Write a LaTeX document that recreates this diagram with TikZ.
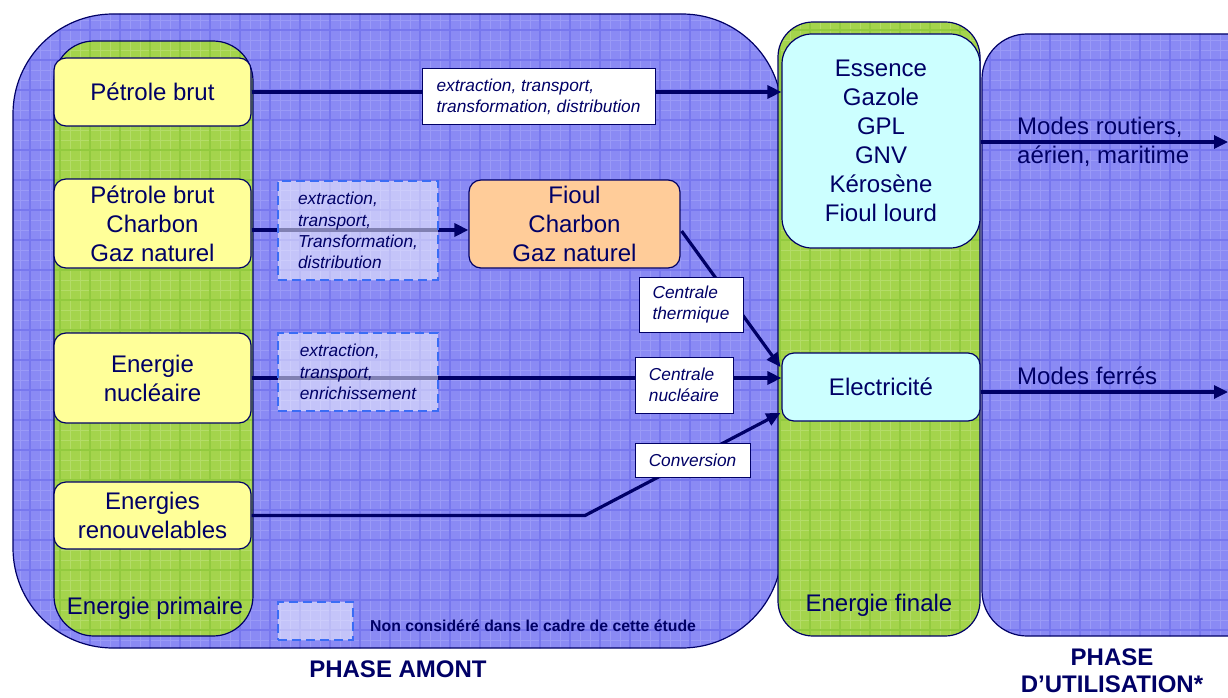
\documentclass[tikz,border=0pt]{standalone}
\usepackage{fontspec}
\setmainfont{Liberation Sans}
\usetikzlibrary{arrows.meta,calc}
\definecolor{navy}{HTML}{000066}
\definecolor{bluefill}{HTML}{8A8AF4}
\definecolor{bluegrid}{HTML}{7777EE}
\definecolor{bluegridlight}{HTML}{9A9AF7}
\definecolor{greenfill}{HTML}{A4D44C}
\definecolor{greengrid}{HTML}{92CA3E}
\definecolor{greengridlight}{HTML}{B4DC68}
\definecolor{yellowbox}{HTML}{FFFF99}
\definecolor{cyanbox}{HTML}{CCFFFF}
\definecolor{orangebox}{HTML}{FFCC99}
\definecolor{dashblue}{HTML}{3A6CF5}
\tikzset{
 mainfont/.style={font=\fontsize{24}{29}\selectfont},
 box/.style={draw=navy, line width=1.2pt, rounded corners=12pt, text=navy, align=center, inner sep=0pt, mainfont},
 ylw/.style={box, fill=yellowbox, minimum width=197pt},
 lbl/.style={draw=navy, line width=1pt, fill=white, text=navy, align=left, inner sep=0pt, font=\fontsize{17.3}{21.3}\selectfont\itshape},
 dbox/.style={draw=dashblue, line width=1.8pt, dash pattern=on 9pt off 5pt, fill=white, fill opacity=0.5, text opacity=1, text=navy, align=left, inner sep=0pt, font=\fontsize{17.3}{21.3}\selectfont\itshape},
 flow/.style={draw=navy, line width=3.2pt, -{Triangle[length=14pt,width=13pt]}},
 panel/.style={draw=navy, line width=1.2pt},
 plain/.style={text=navy, inner sep=0pt},
}
\newcommand{\gridin}[3]{%
 \begin{scope}\clip #1;
 \draw[#2, line width=0.7pt] (0,700) grid[step=10pt] (1300,0);
 \draw[#3, line width=1.1pt] (0,700) grid[step=30pt] (1300,0);
 \end{scope}}
\begin{document}
\begin{tikzpicture}[x=1pt,y=-1pt]
\useasboundingbox (0,0) rectangle (1228,698);
\clip (0,0) rectangle (1228,698);
% phase amont panel
\fill[bluefill, rounded corners=100pt] (13,14) rectangle (782,648);
\gridin{[rounded corners=100pt] (13,14) rectangle (782,648)}{bluegridlight}{bluegrid}
\draw[panel, rounded corners=100pt] (13,14) rectangle (782,648);
% energie primaire column
\fill[greenfill, rounded corners=40pt] (54,41) rectangle (253,636);
\gridin{[rounded corners=40pt] (54,41) rectangle (253,636)}{greengridlight}{greengrid}
\draw[panel, rounded corners=40pt] (54,41) rectangle (253,636);
% energie finale column
\fill[greenfill, rounded corners=35pt] (778,22) rectangle (980,636);
\gridin{[rounded corners=35pt] (778,22) rectangle (980,636)}{greengridlight}{greengrid}
\draw[panel, rounded corners=35pt] (778,22) rectangle (980,636);
% phase utilisation panel
\fill[bluefill, rounded corners=45pt] (982,34) rectangle (1300,636);
\gridin{[rounded corners=45pt] (982,34) rectangle (1300,636)}{bluegridlight}{bluegrid}
\draw[panel, rounded corners=45pt] (982,34) rectangle (1300,636);
% boxes
\node[ylw, minimum height=68pt] (pb1) at (152.5,92) {Pétrole brut};
\node[ylw, minimum height=89pt] (pb2) at (152.5,223.5) {Pétrole brut\\Charbon\\Gaz naturel};
\node[ylw, minimum height=90pt] (nuc) at (152.5,378) {Energie\\nucléaire};
\node[ylw, minimum height=67pt] (ren) at (152.5,515.5) {Energies\\renouvelables};
\node[box, fill=cyanbox, rounded corners=30pt, minimum width=198pt, minimum height=214pt] (ess) at (881,141) {Essence\\Gazole\\GPL\\GNV\\Kérosène\\Fioul lourd};
\node[box, fill=cyanbox, minimum width=198pt, minimum height=68pt] (elec) at (881,387) {Electricité};
\node[box, fill=orangebox, minimum width=211pt, minimum height=88pt] (fioul) at (574.5,224) {Fioul\\Charbon\\Gaz naturel};
\node[plain, mainfont] (eprim) at (155,608) {Energie primaire};
\node[plain, mainfont] (efin) at (879,605) {Energie finale};
% flows
\draw[flow] (pb1.east) -- (pb1.east -| ess.west);
\node[lbl, minimum width=233pt, minimum height=56pt] (lab1) at (538.5,97) {extraction, transport,\\transformation, distribution};
\coordinate (r2) at (0,230);
\draw[flow] (pb2.east |- r2) -- (fioul.west |- r2);
\node[dbox, minimum width=160pt, minimum height=99pt] (dash1) at (358,230.5) {extraction,\\transport,\\Transformation,\\distribution};
\draw[flow] ($(fioul.east)+(1,7)$) -- ($(elec.west)+(-1,-20)$);
\node[lbl, minimum width=104pt, minimum height=55pt] (therm) at (691,304.5) {Centrale\\thermique};
\draw[flow] (nuc.east) -- (nuc.east -| elec.west);
\node[dbox, minimum width=160pt, minimum height=78pt] (dash2) at (358,372) {extraction,\\transport,\\enrichissement};
\node[lbl, minimum width=98pt, minimum height=56pt] (cnuc) at (684,385) {Centrale\\nucléaire};
\coordinate (bend) at (585,515.5);
\draw[flow] (ren.east) -- (bend) -- ($(elec.west)+(-1,26)$);
\node[lbl, minimum width=115pt, minimum height=34pt] (conv) at (692.5,460) {Conversion};
% outputs
\coordinate (o1) at (1228,142);
\draw[flow] (ess.east |- o1) -- (o1);
\node[plain, mainfont, anchor=west, align=left] (m1) at (1017,142) {Modes routiers,\\aérien, maritime};
\coordinate (o2) at (1228,392);
\draw[flow] (elec.east |- o2) -- (o2);
\node[plain, mainfont, anchor=west] (m2) at (1017,376) {Modes ferrés};
% legend
\node[dbox, minimum width=75pt, minimum height=38pt] (leg) at (315.5,621) {};
\node[plain, anchor=west, font=\fontsize{15.8}{19}\selectfont\bfseries] (legt) at (370,626) {Non considéré dans le cadre de cette étude};
% phases
\node[plain, font=\fontsize{24}{29}\selectfont\bfseries] (pa) at (398,669) {PHASE AMONT};
\node[plain, font=\fontsize{24}{27}\selectfont\bfseries, align=center] (pu) at (1112,671) {PHASE\\D’UTILISATION*};
\end{tikzpicture}
\end{document}
